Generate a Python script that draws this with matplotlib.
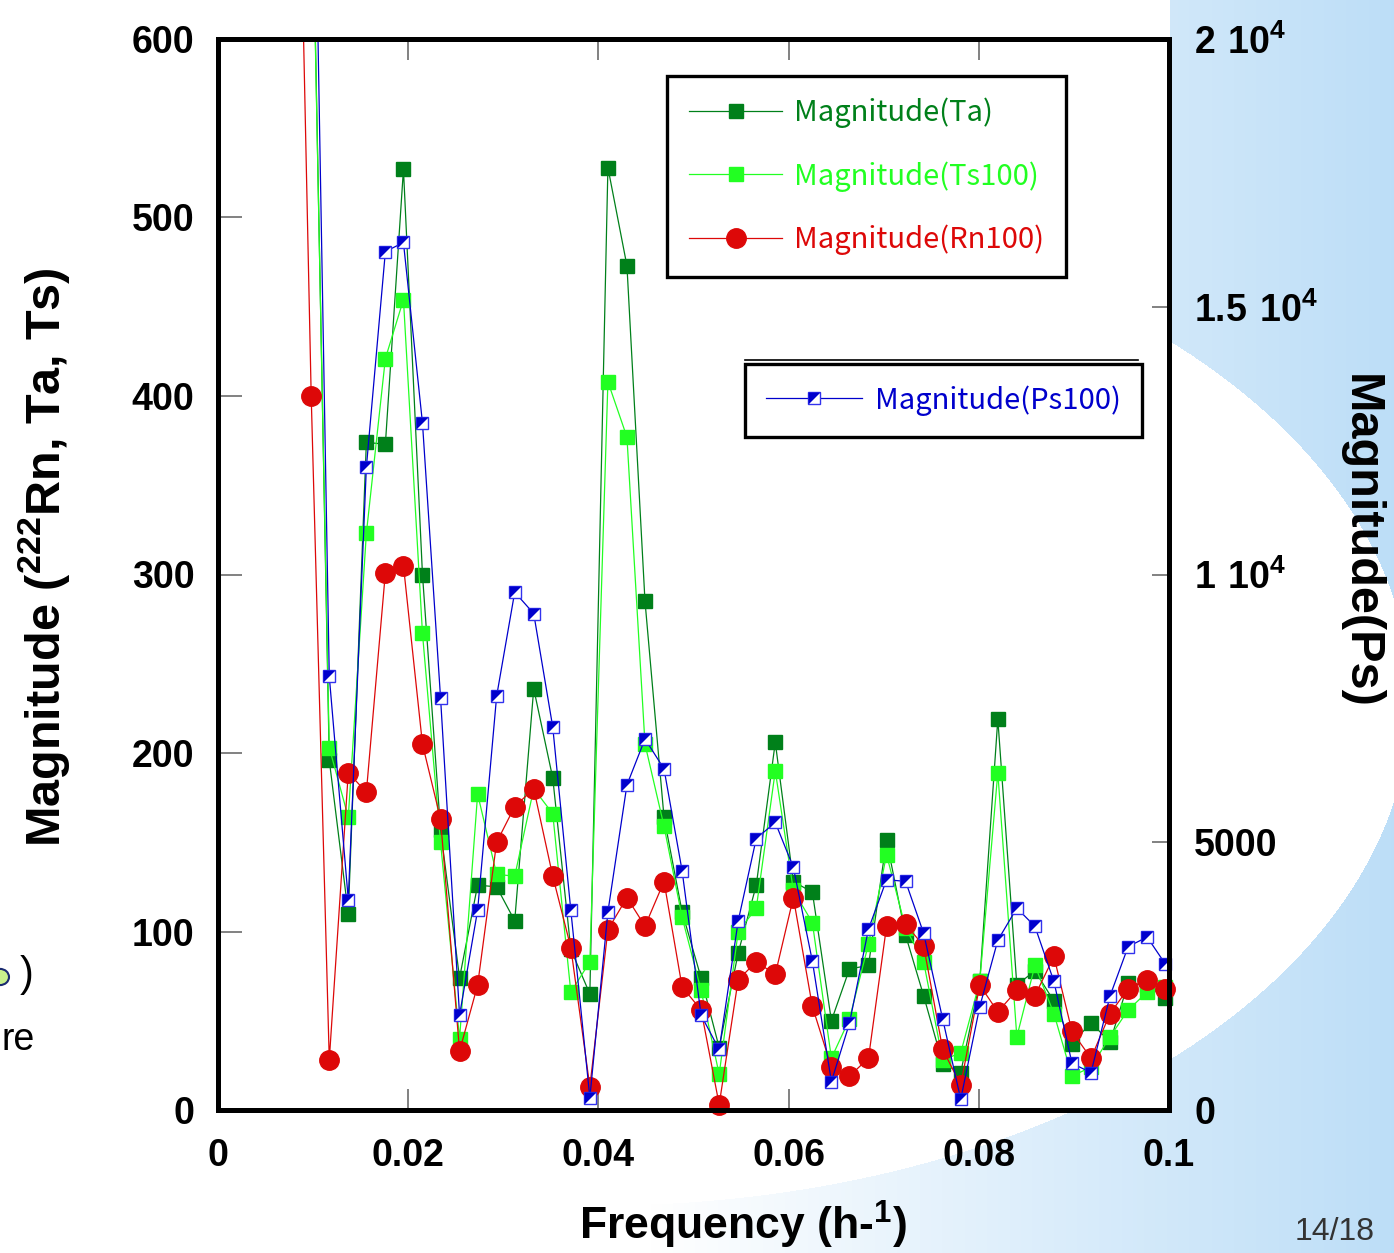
import numpy as np
import matplotlib
matplotlib.use("Agg")
import matplotlib.pyplot as plt
from matplotlib.path import Path
from matplotlib.lines import Line2D
from matplotlib.transforms import Bbox, TransformedBbox
from matplotlib.legend_handler import HandlerTuple

plt.rcParams['font.family'] = ['Liberation Sans', 'DejaVu Sans']
plt.rcParams['font.weight'] = 'bold'
plt.rcParams['mathtext.fontset'] = 'custom'
plt.rcParams['mathtext.rm'] = 'Liberation Sans:bold'
plt.rcParams['mathtext.bf'] = 'Liberation Sans:bold'

nan = np.nan

# frequency (h^-1)
freq = [0.0078, 0.0098, 0.0117, 0.0137, 0.0156, 0.0176, 0.0195, 0.0215, 0.0234, 0.0254,
        0.0273, 0.0293, 0.0312, 0.0332, 0.0352, 0.0371, 0.0391, 0.0410, 0.0430, 0.0449,
        0.0469, 0.0488, 0.0508, 0.0527, 0.0547, 0.0566, 0.0586, 0.0605, 0.0625, 0.0645,
        0.0664, 0.0684, 0.0703, 0.0723, 0.0742, 0.0762, 0.0781, 0.0801, 0.0820, 0.0840,
        0.0859, 0.0879, 0.0898, 0.0918, 0.0938, 0.0957, 0.0977, 0.0996]

mag_ta = [nan, 722, 196, 110, 374, 373, 527, 300, 157, 74,
          126, 125, 106, 236, 186, 90, 65, 528, 473, 285,
          164, 111, 74, 35, 88, 126, 206, 128, 122, 50,
          79, 81, 151, 98, 64, 26, 21, 72, 219, 70,
          78, 61, 37, 49, 38, 71, 70, 63]

mag_ts = [nan, 715, 203, 164, 323, 421, 454, 267, 150, 40,
          177, 132, 131, 180, 166, 66, 83, 408, 377, 205,
          159, 108, 67, 20, 100, 113, 190, 123, 105, 29,
          51, 93, 143, 102, 83, 28, 32, 72, 189, 41,
          81, 54, 19, 24, 41, 56, 66, 69]

mag_rn = [900, 400, 28, 189, 178, 301, 305, 205, 163, 33,
          70, 150, 170, 180, 131, 91, 13, 101, 119, 103,
          128, 69, 56, 3, 73, 83, 76, 119, 58, 24,
          19, 29, 103, 104, 92, 34, 14, 70, 55, 67,
          64, 86, 44, 29, 54, 68, 73, 68]

mag_ps = [nan, 27200, 8100, 3930, 12000, 16030, 16200, 12830, 7700, 1770,
          3730, 7730, 9670, 9270, 7150, 3730, 230, 3700, 6070, 6930,
          6370, 4470, 1770, 1130, 3530, 5070, 5370, 4530, 2780, 530,
          1620, 3380, 4300, 4270, 3300, 1700, 200, 1930, 3170, 3770,
          3430, 2400, 870, 700, 2130, 3050, 3230, 2730]

left_ticks = [0, 100, 200, 300, 400, 500, 600]
right_ticks = [0, 5000, 10000, 15000, 20000]
right_labels = ['0', '5000', r'$\mathbf{1\ 10^{4}}$', r'$\mathbf{1.5\ 10^{4}}$', r'$\mathbf{2\ 10^{4}}$']
x_ticks = [0, 0.02, 0.04, 0.06, 0.08, 0.1]
x_labels = ['0', '0.02', '0.04', '0.06', '0.08', '0.1']

c_ta = '#00801a'
c_ts = '#22ff22'
c_rn = '#dd0808'
c_ps = '#0000cc'

W, H = 1394, 1253
fig = plt.figure(figsize=(W / 100, H / 100), dpi=100)

# slide background: white arc over light blue
yy, xx = np.mgrid[0:H, 0:W]
inside = ((xx - 600) / 810.0) ** 2 + ((yy - 700) / 505.0) ** 2 < 1
blue = (~inside) & ((xx > 1169) | (yy > 1110))
t = np.clip((xx - 650) / 744.0, 0, 1)[..., None]
light = np.array([1.0, 1.0, 1.0])
dark = np.array([0.74, 0.87, 0.97])
col = light * (1 - t) + dark * t
bg = np.ones((H, W, 3))
bg[blue] = col[blue]
fig.figimage(bg, xo=0, yo=0, origin='upper', zorder=-5)

ax = fig.add_axes([218 / W, 1 - 1110 / H, (1169 - 218) / W, (1110 - 39) / H])
ax.set_zorder(2)
ax.set_facecolor('white')
ax2 = ax.twinx()
ax2.set_zorder(3)

lw = 0.9
l_ta, = ax.plot(freq, mag_ta, color=c_ta, lw=lw, marker='s', ms=9.5, mec=c_ta, mfc=c_ta)
l_ts, = ax.plot(freq, mag_ts, color=c_ts, lw=lw, marker='s', ms=9.5, mec=c_ts, mfc=c_ts)
l_rn, = ax.plot(freq, mag_rn, color=c_rn, lw=lw, marker='o', ms=14, mec=c_rn, mfc=c_rn)

tri = Path([(-1, 1), (1, 1), (-1, -1), (-1, 1)], closed=True)
l_ps, = ax2.plot(freq, mag_ps, color=c_ps, lw=lw, marker='s', ms=8.5, mec='#3333ee', mfc='white', mew=1.0)
l_ps2, = ax2.plot(freq, mag_ps, ls='none', marker=tri, ms=8.5, mec=c_ps, mfc=c_ps, mew=0)

for a, lines in ((ax, (l_ta, l_ts, l_rn)), (ax2, (l_ps, l_ps2))):
    box = TransformedBbox(Bbox([[0, -0.015], [1.006, 1]]), a.transAxes)
    for ln in lines:
        ln.set_clip_box(box)

ax.set_xlim(0, 0.1)
ax.set_ylim(0, 600)
ax2.set_ylim(0, 20000)

ax.set_xticks(x_ticks)
ax.set_xticklabels(x_labels)
ax.set_yticks(left_ticks)
ax.set_yticklabels([str(v) for v in left_ticks])
ax2.set_yticks(right_ticks)
ax2.set_yticklabels(right_labels)

ax.tick_params(axis='x', direction='in', length=15, width=1.3, color='#777777',
               labelsize=27, pad=20, top=True)
ax.tick_params(axis='y', direction='in', length=17, width=1.3, color='#777777',
               labelsize=27, pad=17)
ax2.tick_params(axis='y', direction='in', length=12, width=1.3, color='#777777',
                labelsize=27, pad=18)

for a in (ax, ax2):
    for s in a.spines.values():
        s.set_linewidth(3.6)
        s.set_color('black')

fig.text(45 / W, 1 - 557 / H, r'Magnitude ($^{\mathbf{222}}$Rn, Ta, Ts)', rotation=90,
         ha='center', va='center', fontsize=35, fontweight='bold')
fig.text(743 / W, 1 - 1225 / H, r'Frequency (h-$^{\mathbf{1}}$)',
         ha='center', va='center', fontsize=32, fontweight='bold')
fig.text(1360 / W, 1 - 541 / H, 'Magnitude(Ps)', rotation=-90,
         ha='center', va='center', fontsize=35, fontweight='bold')
fig.text(1335 / W, 1 - 1232 / H, '14/18', ha='center', va='center',
         fontsize=23, fontweight='normal', color='#333333')

# fragments of slide text at the left edge
fig.text(2 / W, 1 - 1040 / H, 're', ha='left', va='center', fontsize=27,
         fontweight='normal', color='black')
fig.text(20 / W, 1 - 975 / H, ')', ha='left', va='center', fontsize=30,
         fontweight='normal', color='black')
fig.patches.append(plt.Circle((0, 1 - 977 / H), 9 / W, transform=fig.transFigure,
                              facecolor='#c8f08c', edgecolor='#1a2a70', lw=1.5))

leg_prop = {'family': ['Noto Sans CJK JP', 'DejaVu Sans'], 'weight': 'normal', 'size': 21}
leg1 = ax2.legend([l_ta, l_ts, l_rn], ['Magnitude(Ta)', 'Magnitude(Ts100)', 'Magnitude(Rn100)'],
                  loc='upper left', bbox_to_anchor=(667 / W, 1 - 76 / H),
                  bbox_transform=fig.transFigure, borderaxespad=0, prop=leg_prop,
                  handlelength=3.2, handletextpad=0.4, labelspacing=1.12, borderpad=0.75,
                  fancybox=False, framealpha=1, edgecolor='black')
leg1.get_frame().set_linewidth(2.4)
for txt, c in zip(leg1.get_texts(), (c_ta, c_ts, c_rn)):
    txt.set_color(c)
ax2.add_artist(leg1)

leg2 = ax2.legend([(l_ps, l_ps2)], ['Magnitude(Ps100)'],
                  handler_map={tuple: HandlerTuple(ndivide=1)},
                  loc='upper left', bbox_to_anchor=(745 / W, 1 - 364 / H),
                  bbox_transform=fig.transFigure, borderaxespad=0, prop=leg_prop,
                  handlelength=3.3, handletextpad=0.45, borderpad=0.72,
                  fancybox=False, framealpha=1, edgecolor='black')
leg2.get_frame().set_linewidth(2.4)
leg2.get_texts()[0].set_color(c_ps)
ax2.add_line(Line2D([745 / W, 1138 / W], [1 - 360 / H, 1 - 360 / H],
                    transform=fig.transFigure, color='black', lw=1.2, clip_on=False))

fig.savefig('out.png', dpi=100)
